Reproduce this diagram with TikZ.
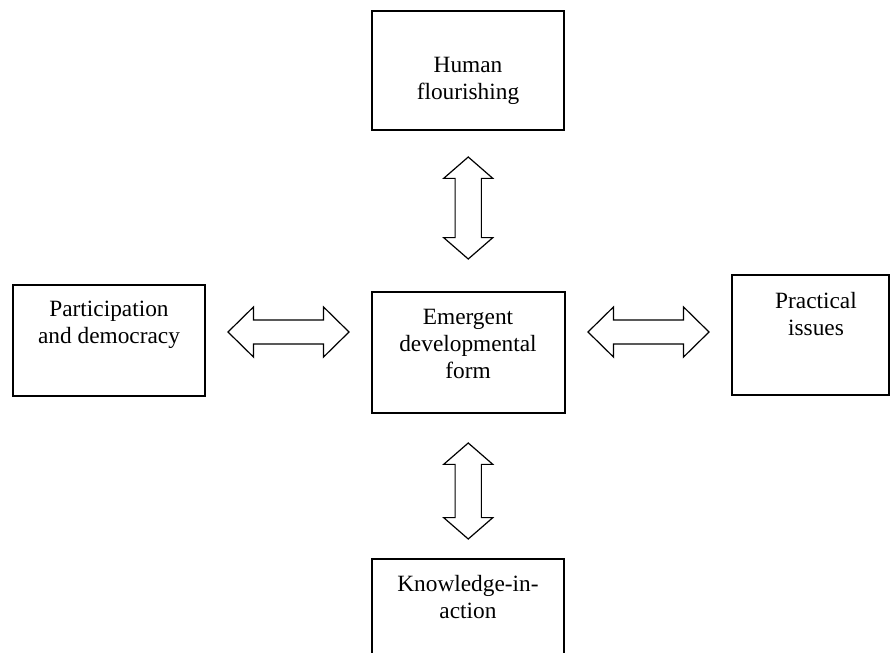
\documentclass[tikz,border=0pt]{standalone}
\usepackage{fontspec}
\setmainfont{Liberation Serif}
\usetikzlibrary{shapes.arrows,calc}
\begin{document}
\begin{tikzpicture}[x=0.75pt,y=-0.75pt,
  box/.style={draw,line width=1.4pt,inner sep=0pt,rectangle},
  lbl/.style={align=center,anchor=base,inner sep=0pt,font=\fontsize{17.5pt}{20.25pt}\selectfont},
  hlink/.style={double arrow,draw,line width=0.9pt,inner sep=8.6pt,minimum height=90.75pt,
    double arrow head extend=9.75pt,double arrow tip angle=89},
  vlink/.style={double arrow,draw,line width=0.9pt,inner sep=9.4pt,
    double arrow head extend=8.6pt,double arrow tip angle=98,rotate=90}]
\useasboundingbox (0,0) rectangle (890,653);
\clip (0,0) rectangle (890,653);

% boxes
\node[box,minimum width=144pt,minimum height=89.25pt] (hf) at (468,70.5) {};
\node[box,minimum width=144.75pt,minimum height=90.75pt] (em) at (468.5,352.5) {};
\node[box,minimum width=144pt,minimum height=83.25pt] (pd) at (109,340.5) {};
\node[box,minimum width=117.75pt,minimum height=90pt] (pi) at (810.5,335) {};
\node[box,minimum width=144pt,minimum height=105.75pt] (ka) at (468,629.5) {};

% labels (base anchor sits on the last line)
\node[lbl] (hft) at (468,99) {Human\\flourishing};
\node[lbl] (emt) at (468,378) {Emergent\\developmental\\form};
\node[lbl] (pdt) at (109,343) {Participation\\and democracy};
\node[lbl] (pit) at (816,335) {Practical\\issues};
\node[lbl] (kat) at (468,618) {Knowledge-in-\\action};

% two-way block arrows between the boxes
\coordinate (lmid) at ($(pd.east)!0.5!(em.west)$);
\coordinate (rmid) at ($(em.east)!0.5!(pi.west)$);
\coordinate (tmid) at ($(hf.south)!0.5!(em.north)$);
\coordinate (bmid) at ($(em.south)!0.5!(ka.north)$);
\node[hlink] (la) at (lmid |- 0,332) {};
\node[hlink] (ra) at (rmid |- 0,332) {};
\node[vlink,minimum height=76.5pt] (ta) at ($(tmid)+(0,-3)$) {};
\node[vlink,minimum height=72pt] (ba) at ($(bmid)+(0,5)$) {};
\end{tikzpicture}
\end{document}
